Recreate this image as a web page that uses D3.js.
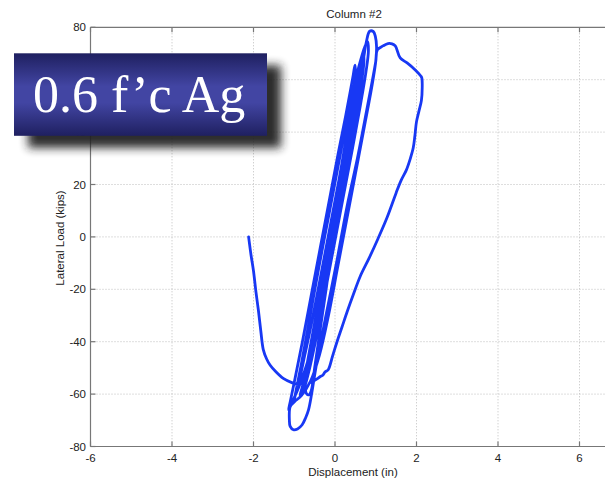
<!DOCTYPE html>
<html>
<head>
<meta charset="utf-8">
<script src="https://cdn.jsdelivr.net/npm/d3@7"></script>
<style>
  html, body { margin: 0; padding: 0; background: #fff; }
  svg { display: block; }
  .sans { font-family: "Liberation Sans", Arial, sans-serif; }
  .banner { font-family: "Liberation Serif", "Nimbus Roman", "Nimbus Roman No9 L", "Times New Roman", Times, "Noto Serif", "DejaVu Serif", FreeSerif, Georgia, serif; }
</style>
</head>
<body>
<svg id="chart" width="605" height="482"></svg>
<script>
// Axis tick values
const xTicks = [-6, -4, -2, 0, 2, 4, 6];
const yTicks = [-80, -60, -40, -20, 0, 20, 40, 60, 80];

// Hysteresis record: displacement (in) and lateral load (kips), in test order
const disp = [
  -2.12, -2.06, -2.00, -1.94, -1.88, -1.82, -1.76, -1.68, -1.59, -1.45, -1.27, -1.06,
  -0.90, -0.80, -0.74, -0.70, -0.64, -0.58,
  -0.50, -0.36, -0.20, -0.04, 0.12, 0.28, 0.42, 0.54, 0.62, 0.66,
  0.64, 0.56, 0.42, 0.22, 0.00, -0.22, -0.45, -0.68, -0.88, -1.02, -1.10, -1.14,
  -1.10, -0.98, -0.80, -0.58, -0.36, -0.14, 0.08, 0.26, 0.38, 0.45, 0.49,
  0.50, 0.44, 0.30, 0.10, -0.12, -0.34, -0.55, -0.74, -0.88, -0.97, -1.00,
  -0.96, -0.82, -0.62, -0.40, -0.18, 0.04, 0.26, 0.46, 0.62, 0.73, 0.80,
  0.82, 0.76, 0.62, 0.42, 0.20, -0.02, -0.24, -0.44, -0.62, -0.74, -0.82,
  -0.78, -0.64, -0.46, -0.26, -0.06, 0.14, 0.34, 0.50, 0.60, 0.66, 0.70,
  0.71, 0.66, 0.52, 0.32, 0.10, -0.12, -0.34, -0.54, -0.70, -0.80, -0.86,
  -0.78, -0.62, -0.42, -0.20, 0.02, 0.24, 0.44, 0.60, 0.70, 0.77, 0.85, 0.94,
  0.99, 1.02, 1.00, 0.90, 0.72, 0.50, 0.28, 0.06, -0.16, -0.38, -0.60, -0.82, -1.00, -1.10,
  -1.12, -1.10, -1.02, -0.92, -0.81, -0.72, -0.65, -0.57,
  -0.47, -0.35, -0.08, 0.05, 0.30, 0.55, 0.78, 0.92, 1.00, 1.04, 1.18, 1.30, 1.40, 1.48,
  1.60, 1.77, 1.97, 2.10, 2.13,
  2.14, 2.12, 2.06, 2.00, 1.96, 1.92, 1.85, 1.75, 1.62, 1.50, 1.28, 1.06, 0.84, 0.62,
  0.45, 0.30, 0.17, 0.05, -0.06, -0.17, -0.24, -0.30, -0.36, -0.47, -0.58
];
const load = [
  0, -7, -13, -21, -28, -36, -43, -46.5, -49, -51.5, -54, -55.6,
  -56.3, -56.0, -57.5, -59.8, -60.3, -58.5,
  -50, -35, -18, 0, 18, 36, 50, 60, 65, 67,
  62, 52, 40, 22, 3, -16, -34, -48, -57, -62, -64.5, -66,
  -63, -54, -40, -22, -4, 14, 32, 46, 56, 62, 65.6,
  62, 54, 40, 22, 4, -14, -31, -45, -55, -60, -62.5,
  -59, -48, -31, -12, 6, 24, 42, 57, 67, 72.5, 74.5,
  71, 63, 50, 33, 15, -3, -21, -37, -50, -57, -60,
  -57, -46, -31, -14, 4, 22, 40, 54, 63, 68, 70,
  67, 60, 47, 30, 11, -8, -26, -42, -53, -58, -60.5,
  -56, -43, -26, -8, 10, 28, 45, 59, 68, 74.5, 78.5, 78.4,
  76.5, 72.5, 67, 57, 42, 24, 6, -12, -30, -45, -55, -60.5, -63, -64.8,
  -69.8, -72.3, -73.6, -73.3, -71.8, -69, -66, -59.6,
  -50, -40, -19, -8.8, 12, 30, 48.5, 60, 67, 71.4, 72.9, 73.8, 73.7, 72.9,
  68.3, 66.4, 63.7, 61.5, 60.7,
  57, 52, 48, 44, 38.5, 34, 30, 25.5, 21.5, 16.8, 7.5, -0.5, -8, -15,
  -22, -28.5, -34.5, -40, -45.5, -50.8, -51.5, -52.8, -53.3, -54.5, -55.6
];

const chartTitle = "Column #2";
const xLabel = "Displacement (in)";
const yLabel = "Lateral Load (kips)";
const bannerText = "0.6 f\u2019c Ag";

const svg = d3.select("#chart");

const plotLeft = 90.5, plotTop = 27.3, plotBottom = 446.5;
const x = d3.scaleLinear().domain([-6, 7]).range([plotLeft, plotLeft + 13 * 40.75]);
const y = d3.scaleLinear().domain([-80, 80]).range([plotBottom, plotTop]);
const plotRight = x(7);

const axisColor = "#777";
const gridColor = "#bdbdbd";

// dotted grid
const grid = svg.append("g");
grid.selectAll("line.gx").data(xTicks.filter(d => d > -6)).join("line")
  .attr("x1", d => x(d)).attr("x2", d => x(d))
  .attr("y1", plotTop).attr("y2", plotBottom)
  .attr("stroke", gridColor).attr("stroke-width", 1)
  .attr("stroke-dasharray", "1,2");
grid.selectAll("line.gy").data(yTicks.filter(d => d > -80 && d < 80)).join("line")
  .attr("x1", plotLeft).attr("x2", plotRight)
  .attr("y1", d => y(d)).attr("y2", d => y(d))
  .attr("stroke", gridColor).attr("stroke-width", 1)
  .attr("stroke-dasharray", "1,2");

// axes frame
const frame = svg.append("g").attr("stroke", axisColor).attr("stroke-width", 1.2);
frame.append("line").attr("x1", plotLeft).attr("x2", plotRight).attr("y1", plotTop).attr("y2", plotTop);
frame.append("line").attr("x1", plotLeft).attr("x2", plotRight).attr("y1", plotBottom).attr("y2", plotBottom);
frame.append("line").attr("x1", plotLeft).attr("x2", plotLeft).attr("y1", plotTop).attr("y2", plotBottom);

// inward ticks
const tk = 5;
frame.append("g").selectAll("line").data(xTicks).join("line")
  .attr("x1", d => x(d)).attr("x2", d => x(d)).attr("y1", plotBottom).attr("y2", plotBottom - tk);
frame.append("g").selectAll("line").data(xTicks).join("line")
  .attr("x1", d => x(d)).attr("x2", d => x(d)).attr("y1", plotTop).attr("y2", plotTop + tk);
frame.append("g").selectAll("line").data(yTicks).join("line")
  .attr("x1", plotLeft).attr("x2", plotLeft + tk).attr("y1", d => y(d)).attr("y2", d => y(d));

// tick labels
svg.append("g").attr("class", "sans").selectAll("text").data(xTicks).join("text")
  .attr("x", d => x(d)).attr("y", 462)
  .attr("text-anchor", "middle")
  .attr("font-size", 11.5).attr("fill", "#222")
  .text(d => d);
svg.append("g").attr("class", "sans").selectAll("text").data(yTicks).join("text")
  .attr("x", 86).attr("y", d => y(d) + 4)
  .attr("text-anchor", "end")
  .attr("font-size", 11.5).attr("fill", "#222")
  .text(d => d);

// titles
const titles = svg.append("g").attr("class", "sans")
  .attr("font-size", 11.5).attr("fill", "#222").attr("text-anchor", "middle");
titles.append("text").attr("x", 354).attr("y", 18).text(chartTitle);
titles.append("text").attr("x", 353).attr("y", 476).text(xLabel);
titles.append("text").attr("transform", "translate(64,238) rotate(-90)").text(yLabel);

// hysteresis curve
const pts = disp.map((d, i) => [d, load[i]]);
const line = d3.line()
  .x(d => x(d[0])).y(d => y(d[1]))
  .curve(d3.curveCatmullRom.alpha(0.5));
svg.append("path")
  .datum(pts)
  .attr("d", line)
  .attr("fill", "none")
  .attr("stroke", "#1838f4")
  .attr("stroke-width", 2.8)
  .attr("stroke-linejoin", "round")
  .attr("stroke-linecap", "round");

// banner with drop shadow
const defs = svg.append("defs");
const grad = defs.append("linearGradient").attr("id", "bannerFill")
  .attr("x1", 0).attr("y1", 0).attr("x2", 0).attr("y2", 1);
grad.append("stop").attr("offset", "0%").attr("stop-color", "#1f2060");
grad.append("stop").attr("offset", "40%").attr("stop-color", "#4245a3");
grad.append("stop").attr("offset", "60%").attr("stop-color", "#4245a3");
grad.append("stop").attr("offset", "100%").attr("stop-color", "#1f2060");
defs.append("filter").attr("id", "soft")
  .attr("x", "-30%").attr("y", "-40%").attr("width", "160%").attr("height", "180%")
  .append("feGaussianBlur").attr("stdDeviation", 5);

const bx = 14, by = 53.3, bw = 253, bh = 82.5;
svg.append("rect")
  .attr("x", bx + 14).attr("y", by + 12).attr("width", bw).attr("height", bh)
  .attr("fill", "#222").attr("opacity", 0.95)
  .attr("filter", "url(#soft)");
svg.append("rect")
  .attr("x", bx).attr("y", by).attr("width", bw).attr("height", bh)
  .attr("fill", "url(#bannerFill)");
svg.append("text")
  .attr("class", "banner")
  .attr("x", bx + 19).attr("y", by + 59)
  .attr("font-size", 52).attr("fill", "#fff")
  .text(bannerText);
</script>
</body>
</html>
